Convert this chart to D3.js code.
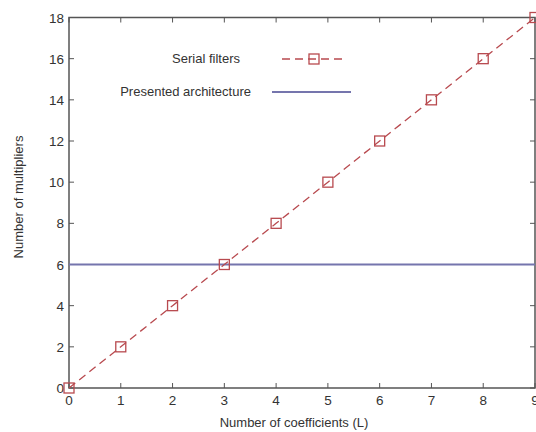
<!DOCTYPE html>
<html>
<head>
<meta charset="utf-8">
<script src="https://cdn.jsdelivr.net/npm/d3@7"></script>
<style>
  body { margin: 0; background: #fff; }
  text { font-family: "Liberation Sans", Arial, sans-serif; fill: #333; }
</style>
</head>
<body>
<svg id="chart" width="536" height="432"></svg>
<script>
// data
var coefficients = [0, 1, 2, 3, 4, 5, 6, 7, 8, 9];
var serialMultipliers = [0, 2, 4, 6, 8, 10, 12, 14, 16, 18];
var presentedMultipliers = [6, 6];
var presentedRange = [0, 9];
var xTicks = [0, 1, 2, 3, 4, 5, 6, 7, 8, 9];
var yTicks = [0, 2, 4, 6, 8, 10, 12, 14, 16, 18];

var svg = d3.select("#chart");
var plotL = 69, plotR = 535, plotT = 17.5, plotB = 388;

var x = d3.scaleLinear().domain([0, 9]).range([plotL, plotR]);
var y = d3.scaleLinear().domain([0, 18]).range([plotB, plotT]);

var axisColor = "#555";

// frame
svg.append("rect")
	.attr("x", plotL).attr("y", plotT)
	.attr("width", plotR - plotL).attr("height", plotB - plotT)
	.attr("fill", "none").attr("stroke", axisColor).attr("stroke-width", 1.5);

// ticks, pointing inwards on all four sides
var ticks = svg.append("g").attr("stroke", axisColor).attr("stroke-width", 1);
xTicks.forEach(function (d) {
	ticks.append("line").attr("x1", x(d)).attr("x2", x(d)).attr("y1", plotB).attr("y2", plotB - 5);
	ticks.append("line").attr("x1", x(d)).attr("x2", x(d)).attr("y1", plotT).attr("y2", plotT + 5);
});
yTicks.forEach(function (d) {
	ticks.append("line").attr("y1", y(d)).attr("y2", y(d)).attr("x1", plotL).attr("x2", plotL + 5);
	ticks.append("line").attr("y1", y(d)).attr("y2", y(d)).attr("x1", plotR).attr("x2", plotR - 5);
});

svg.append("g").selectAll("text")
	.data(xTicks)
	.join("text")
	.attr("x", function (d) { return x(d); })
	.attr("y", plotB + 17)
	.attr("text-anchor", "middle")
	.attr("font-size", 13.5)
	.text(function (d) { return d; });

svg.append("g").selectAll("text")
	.data(yTicks)
	.join("text")
	.attr("x", plotL - 5)
	.attr("y", function (d) { return y(d) + 5; })
	.attr("text-anchor", "end")
	.attr("font-size", 13.5)
	.text(function (d) { return d; });

// axis titles
svg.append("text")
	.attr("x", 294)
	.attr("y", 427)
	.attr("text-anchor", "middle")
	.attr("font-size", 13)
	.text("Number of coefficients (L)");

svg.append("text")
	.attr("transform", "translate(23,197) rotate(-90)")
	.attr("text-anchor", "middle")
	.attr("font-size", 13)
	.text("Number of multipliers");

var red = "#b84a4f";
var blue = "#7575ad";

// presented architecture
svg.append("line")
	.attr("x1", x(presentedRange[0])).attr("x2", x(presentedRange[1]))
	.attr("y1", y(presentedMultipliers[0])).attr("y2", y(presentedMultipliers[1]))
	.attr("stroke", blue).attr("stroke-width", 1.8);

// serial filters
var line = d3.line()
	.x(function (d, i) { return x(coefficients[i]); })
	.y(function (d) { return y(d); });

svg.append("path")
	.datum(serialMultipliers)
	.attr("d", line)
	.attr("fill", "none")
	.attr("stroke", red)
	.attr("stroke-width", 1.3)
	.attr("stroke-dasharray", "8,5");

svg.append("g").selectAll("rect")
	.data(serialMultipliers)
	.join("rect")
	.attr("x", function (d, i) { return x(coefficients[i]) - 5; })
	.attr("y", function (d) { return y(d) - 5; })
	.attr("width", 10).attr("height", 10)
	.attr("fill", "none")
	.attr("stroke", red)
	.attr("stroke-width", 1.3);

// legend
svg.append("text").attr("x", 240).attr("y", 63).attr("text-anchor", "end")
	.attr("font-size", 13).text("Serial filters");
svg.append("text").attr("x", 251).attr("y", 96).attr("text-anchor", "end")
	.attr("font-size", 13).text("Presented architecture");

svg.append("line").attr("x1", 282).attr("x2", 346).attr("y1", 59).attr("y2", 59)
	.attr("stroke", red).attr("stroke-width", 1.3).attr("stroke-dasharray", "8,5");
svg.append("rect").attr("x", 309).attr("y", 54).attr("width", 10).attr("height", 10)
	.attr("fill", "none").attr("stroke", red).attr("stroke-width", 1.3);
svg.append("line").attr("x1", 272).attr("x2", 351).attr("y1", 92).attr("y2", 92)
	.attr("stroke", blue).attr("stroke-width", 1.8);
</script>
</body>
</html>
